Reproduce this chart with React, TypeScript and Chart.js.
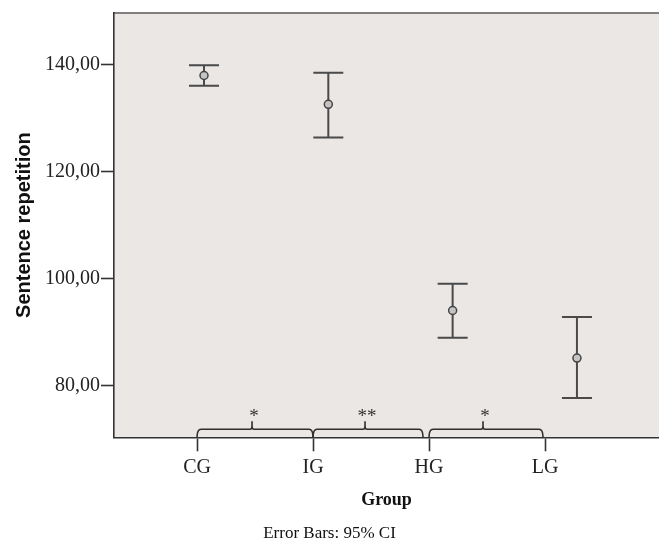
import React, { useEffect, useRef } from 'react';
import { Chart, registerables } from 'chart.js';

Chart.register(...registerables);

// ---- data ----
const groups = ['CG', 'IG', 'HG', 'LG'];
const means = [138.0, 132.6, 94.0, 85.1];
const ciLower = [136.1, 126.4, 88.9, 77.6];
const ciUpper = [139.9, 138.5, 99.0, 92.8];
const yTickValues = [80, 100, 120, 140];
const compareFrom = [0, 1, 2];
const compareTo = [1, 2, 3];
const significance = ['*', '**', '*'];

// ---- layout constants (axis units) ----
const TICK_START = -0.056;
const TICK_STEP = 0.933;
const tickPos = (i: number) => TICK_START + i * TICK_STEP;

const decorPlugin = {
  id: 'decor',
  beforeDraw(chart: any) {
    const { ctx, chartArea: a } = chart;
    ctx.save();
    ctx.fillStyle = '#ffffff';
    ctx.fillRect(0, 0, chart.width, chart.height);
    ctx.fillStyle = '#EAE7E4';
    ctx.fillRect(a.left, a.top, a.right - a.left, a.bottom - a.top);
    ctx.strokeStyle = '#808080';
    ctx.lineWidth = 2;
    ctx.beginPath();
    ctx.moveTo(a.left, a.top);
    ctx.lineTo(a.right, a.top);
    ctx.stroke();
    ctx.restore();
  },
  beforeDatasetsDraw(chart: any) {
    const { ctx, scales } = chart;
    const xs = scales.x;
    const ys = scales.y;
    ctx.save();
    ctx.strokeStyle = '#4a4a4a';
    ctx.lineWidth = 2;
    const cap = 15;
    groups.forEach((_, i) => {
      const x = xs.getPixelForValue(i);
      const yHi = ys.getPixelForValue(ciUpper[i]);
      const yLo = ys.getPixelForValue(ciLower[i]);
      ctx.beginPath();
      ctx.moveTo(x, yHi);
      ctx.lineTo(x, yLo);
      ctx.moveTo(x - cap, yHi);
      ctx.lineTo(x + cap, yHi);
      ctx.moveTo(x - cap, yLo);
      ctx.lineTo(x + cap, yLo);
      ctx.stroke();
    });
    ctx.restore();
  },
  afterDraw(chart: any) {
    const { ctx, chartArea: a, scales } = chart;
    const xs = scales.x;
    const endGap = [0, 6, 2];
    ctx.save();
    ctx.strokeStyle = '#2f2f2f';
    ctx.lineWidth = 1.6;
    const yb = a.bottom - 8;
    compareFrom.forEach((f, k) => {
      const x1 = xs.getPixelForValue(tickPos(f));
      const x2 = xs.getPixelForValue(tickPos(compareTo[k])) - endGap[k];
      const m = (x1 + x2) / 2 - 3;
      ctx.beginPath();
      ctx.moveTo(x1, a.bottom);
      ctx.quadraticCurveTo(x1, yb, x1 + 4, yb);
      ctx.lineTo(m - 2, yb);
      ctx.quadraticCurveTo(m, yb, m, yb - 3);
      ctx.lineTo(m, yb - 8);
      ctx.moveTo(m, yb - 3);
      ctx.quadraticCurveTo(m, yb, m + 2, yb);
      ctx.lineTo(x2 - 4, yb);
      ctx.quadraticCurveTo(x2, yb, x2, a.bottom);
      ctx.stroke();
      ctx.fillStyle = '#333';
      ctx.font = '19px "Liberation Serif"';
      ctx.textAlign = 'center';
      ctx.textBaseline = 'middle';
      ctx.fillText(significance[k], m + 2, yb - 12);
    });
    ctx.restore();
  },
};

export default function App() {
  const ref = useRef<HTMLCanvasElement>(null);
  useEffect(() => {
    if (!ref.current) return;
    const chart = new Chart(ref.current, {
      type: 'scatter',
      data: {
        datasets: [
          {
            data: means.map((m, i) => ({ x: i, y: m })),
            pointRadius: 4,
            pointBorderWidth: 1.5,
            pointBorderColor: '#444',
            pointBackgroundColor: '#c4c4c4',
          },
        ],
      },
      plugins: [decorPlugin],
      options: {
        animation: false,
        responsive: false,
        maintainAspectRatio: false,
        layout: { autoPadding: false, padding: { top: 10.7, left: 0, right: 0, bottom: 0 } },
        plugins: {
          legend: { display: false },
          tooltip: { enabled: false },
          title: {
            display: true,
            position: 'bottom',
            text: 'Error Bars: 95% CI',
            color: '#111',
            font: { family: '"Liberation Serif"', size: 17, weight: 'normal' },
            padding: { top: 6, bottom: 3.3 },
          },
        },
        scales: {
          x: {
            type: 'linear',
            min: -0.724,
            max: 3.66,
            afterFit: (s: any) => {
              s.height = 80;
            },
            afterBuildTicks: (s: any) => {
              s.ticks = groups.map((_, i) => ({ value: tickPos(i) }));
            },
            ticks: {
              autoSkip: false,
              maxRotation: 0,
              padding: 4,
              color: '#222',
              font: { family: '"Liberation Serif"', size: 20 },
              callback: (_v: any, idx: number) => groups[idx],
            },
            grid: {
              drawOnChartArea: false,
              drawTicks: true,
              tickLength: 14,
              tickWidth: 1.6,
              tickColor: '#333',
            },
            border: { display: true, color: '#333', width: 1.6 },
            title: {
              display: true,
              text: 'Group',
              color: '#111',
              font: { family: '"Liberation Serif"', size: 18, weight: 'bold' },
              padding: { top: 0, bottom: 6.5 },
            },
          },
          y: {
            type: 'linear',
            min: 70.26,
            max: 149.7,
            afterFit: (s: any) => {
              s.width = 114;
            },
            afterBuildTicks: (s: any) => {
              s.ticks = yTickValues.map((v) => ({ value: v }));
            },
            ticks: {
              padding: 1,
              color: '#222',
              font: { family: '"Liberation Serif"', size: 20 },
              callback: (v: any) => Number(v).toFixed(2).replace('.', ','),
            },
            grid: {
              drawOnChartArea: false,
              drawTicks: true,
              tickLength: 13,
              tickWidth: 1.6,
              tickColor: '#333',
            },
            border: { display: true, color: '#333', width: 1.6 },
            title: {
              display: true,
              text: 'Sentence repetition',
              color: '#111',
              font: { family: '"Liberation Sans"', size: 20, weight: 'bold' },
              padding: { top: 12, bottom: 0 },
            },
          },
        },
      },
    } as any);
    return () => chart.destroy();
  }, []);
  return (
    <div style={{ position: 'fixed', left: 0, top: 0, width: 659, height: 547, background: '#fff' }}>
      <canvas ref={ref} width={659} height={547} style={{ width: 659, height: 547 }} />
    </div>
  );
}
